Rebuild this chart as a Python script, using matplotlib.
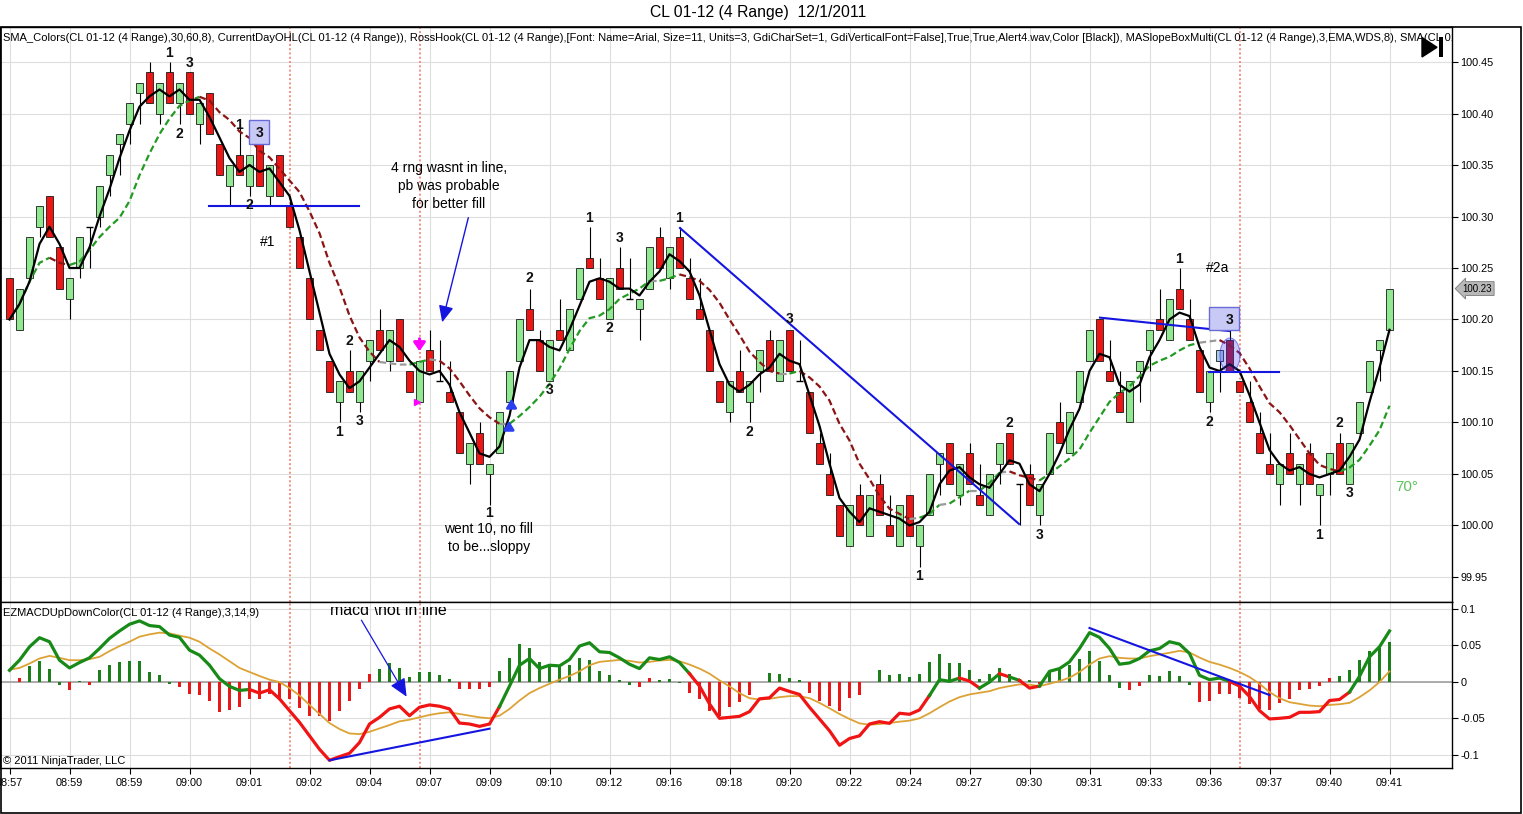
"""
NinjaTrader-style range-bar chart of CL 01-12 (4 Range), 12/1/2011,
with swing labels, hand-drawn notes and the EZMACD panel underneath.
"""

import matplotlib

matplotlib.use("Agg")
import matplotlib.pyplot as plt
import numpy as np
import pandas as pd
from matplotlib.patches import Ellipse, Polygon, Rectangle
from matplotlib.transforms import blended_transform_factory

plt.rcParams["font.family"] = ["Liberation Sans", "DejaVu Sans"]

FIG_W, FIG_H, DPI = 1523, 814, 100

TITLE = "CL 01-12 (4 Range)  12/1/2011"
HEADER = (
    "SMA_Colors(CL 01-12 (4 Range),30,60,8), CurrentDayOHL(CL 01-12 (4 Range)), "
    "RossHook(CL 01-12 (4 Range),[Font: Name=Arial, Size=11, Units=3, GdiCharSet=1, "
    "GdiVerticalFont=False],True,True,Alert4.wav,Color [Black]), "
    "MASlopeBoxMulti(CL 01-12 (4 Range),3,EMA,WDS,8), SMA(CL 01-12 (4 Range),14)"
)
MACD_HEADER = "EZMACDUpDownColor(CL 01-12 (4 Range),3,14,9)"

# one label every 6 bars
TIME_LABELS = [
    "08:57", "08:59", "08:59", "09:00", "09:01", "09:02", "09:04", "09:07",
    "09:09", "09:10", "09:12", "09:16", "09:18", "09:20", "09:22", "09:24",
    "09:27", "09:30", "09:31", "09:33", "09:36", "09:37", "09:40", "09:41",
]
LABEL_EVERY = 6

# range bars, in ticks (0.01) above 100.00
BASE_PRICE = 100.00
TICK_SIZE = 0.01
OPEN_TICKS = [
    24, 19, 24, 29, 32, 27, 22, 25, 29, 30,
    34, 37, 39, 42, 44, 40, 44, 41, 44, 39,
    42, 37, 33, 36, 33, 37, 32, 36, 31, 28,
    24, 19, 16, 12, 15, 12, 16, 19, 16, 20,
    15, 12, 17, 14, 13, 11, 6, 9, 5, 7,
    12, 16, 21, 18, 14, 19, 17, 22, 26, 24,
    20, 25, 22, 21, 23, 28, 24, 28, 24, 21,
    19, 14, 11, 15, 12, 15, 18, 14, 19, 14,
    13, 8, 5, 2, -2, 3, -1, 4, 0, -2,
    3, -2, 1, 6, 8, 3, 7, 3, 1, 6,
    9, 4, 5, 1, 5, 10, 7, 12, 16, 20,
    15, 13, 10, 15, 17, 20, 18, 23, 20, 17,
    12, 16, 18, 14, 12, 9, 6, 4, 7, 4,
    7, 3, 5, 8, 4, 9, 13, 17, 19,
]
HIGH_TICKS = [
    24, 23, 28, 31, 32, 27, 24, 28, 29, 33,
    36, 38, 41, 43, 45, 43, 45, 43, 44, 41,
    42, 37, 35, 39, 36, 37, 35, 36, 32, 28,
    24, 19, 16, 14, 17, 15, 18, 21, 19, 20,
    15, 16, 19, 18, 16, 11, 8, 10, 6, 11,
    15, 20, 23, 19, 18, 22, 21, 25, 29, 26,
    24, 27, 26, 22, 27, 29, 27, 29, 26, 24,
    19, 14, 14, 17, 14, 17, 19, 18, 19, 18,
    13, 9, 7, 2, 2, 4, 3, 5, 3, 2,
    3, 0, 5, 7, 8, 6, 8, 6, 5, 8,
    9, 4, 6, 4, 9, 12, 11, 15, 19, 20,
    18, 15, 14, 16, 19, 23, 22, 25, 22, 17,
    15, 17, 19, 14, 14, 11, 9, 6, 9, 6,
    8, 4, 7, 9, 8, 12, 16, 18, 23,
]
LOW_TICKS = [
    20, 19, 24, 28, 28, 23, 20, 24, 25, 29,
    32, 34, 37, 39, 41, 39, 41, 39, 40, 37,
    38, 34, 31, 34, 32, 33, 31, 32, 29, 25,
    20, 17, 13, 10, 13, 11, 14, 17, 15, 16,
    13, 12, 15, 14, 12, 7, 4, 6, 2, 7,
    12, 16, 19, 15, 14, 18, 17, 22, 25, 22,
    20, 23, 22, 18, 23, 25, 23, 25, 22, 20,
    15, 12, 10, 13, 10, 13, 15, 14, 15, 14,
    9, 6, 3, -1, -2, 0, -1, 1, -1, -2,
    -1, -4, 1, 3, 4, 2, 4, 2, 1, 4,
    6, 0, 2, 0, 5, 8, 7, 12, 16, 16,
    14, 11, 10, 12, 15, 19, 18, 21, 18, 13,
    11, 13, 15, 13, 10, 7, 5, 2, 5, 2,
    4, 0, 3, 5, 4, 9, 13, 14, 19,
]
CLOSE_TICKS = [
    20, 23, 28, 31, 28, 23, 24, 28, 29, 33,
    36, 38, 41, 43, 41, 43, 41, 43, 40, 41,
    38, 34, 35, 34, 36, 33, 35, 32, 29, 25,
    20, 17, 13, 14, 13, 15, 18, 17, 19, 16,
    13, 16, 15, 14, 12, 7, 8, 6, 6, 11,
    15, 20, 19, 15, 18, 18, 21, 25, 25, 22,
    24, 23, 22, 22, 27, 25, 27, 25, 22, 20,
    15, 12, 14, 13, 14, 17, 15, 18, 15, 14,
    9, 6, 3, -1, 2, 0, 3, 1, -1, 2,
    -1, 0, 5, 7, 4, 6, 4, 2, 5, 8,
    6, 4, 2, 4, 9, 8, 11, 15, 19, 16,
    14, 11, 14, 16, 19, 19, 22, 21, 18, 13,
    15, 17, 15, 13, 10, 7, 5, 6, 5, 6,
    4, 4, 7, 5, 8, 12, 16, 18, 23,
]

# EZMACD values in thousandths
MACD_MILLI = [
    15.6, 29.4, 47.7, 60.1, 54.6, 29.4, 18.8, 26.2, 32.6, 45.4,
    59.2, 69.3, 78.5, 83.1, 76.7, 75.3, 63.8, 60.6, 43.1, 36.3,
    22.5, 4.1, -6.4, -11.9, -10.6, -15.6, -11.0, -23.4, -39.5, -55.5,
    -73.9, -92.3, -107.4, -102.4, -97.8, -83.1, -57.8, -48.7, -37.2, -33.5,
    -46.4, -34.9, -31.7, -33.5, -37.2, -56.5, -57.8, -61.0, -57.8, -34.0,
    -6.0, 22.5, 31.7, 17.9, 22.5, 21.6, 30.3, 48.7, 53.2, 40.9,
    39.9, 32.6, 23.9, 17.9, 32.6, 30.3, 34.0, 26.2, 11.0, -6.0,
    -30.3, -50.0, -48.7, -47.3, -40.9, -23.4, -22.0, -8.7, -13.3, -17.4,
    -34.9, -50.9, -67.0, -86.8, -77.6, -73.9, -57.8, -54.6, -56.9, -43.1,
    -44.5, -38.6, -18.8, 2.8, 0.5, 5.0, 0.9, -8.7, -0.5, 11.0,
    6.4, 1.8, -8.7, -6.0, 14.2, 17.9, 27.1, 45.4, 67.0, 60.6,
    45.4, 23.9, 25.7, 31.7, 42.2, 45.4, 54.6, 51.4, 38.6, 8.7,
    2.8, 5.0, 0.5, -6.0, -20.2, -39.5, -50.9, -50.0, -48.7, -41.8,
    -41.8, -40.9, -25.7, -24.3, -14.2, 7.3, 34.0, 47.7, 69.3,
]
SIGNAL_MILLI = [
    16.5, 18.8, 24.8, 31.7, 35.3, 32.6, 29.4, 29.4, 30.8, 34.0,
    41.8, 48.7, 54.6, 61.5, 64.7, 67.0, 66.1, 62.9, 60.1, 54.6,
    45.4, 37.2, 28.0, 18.8, 13.3, 7.8, 2.8, -0.5, -8.7, -18.8,
    -31.7, -44.1, -56.5, -64.7, -70.7, -71.6, -68.4, -63.8, -59.2, -54.2,
    -51.9, -48.7, -45.4, -43.1, -41.8, -44.1, -46.4, -48.7, -50.0, -46.4,
    -37.2, -25.7, -15.6, -8.7, -2.8, 2.8, 7.8, 14.2, 22.5, 27.1,
    28.5, 29.8, 28.5, 26.2, 27.1, 28.9, 29.8, 28.0, 23.4, 17.9,
    11.0, 1.8, -6.4, -15.6, -22.5, -24.3, -23.4, -21.1, -19.7, -19.7,
    -22.5, -28.9, -36.3, -44.1, -50.9, -56.9, -58.8, -57.8, -56.5, -54.6,
    -53.2, -50.0, -43.1, -34.9, -27.1, -21.1, -17.4, -15.1, -12.9, -8.7,
    -6.0, -3.7, -4.1, -6.0, -2.8, 0.9, 5.5, 13.3, 23.4, 31.7,
    34.9, 32.6, 31.7, 31.7, 34.9, 37.2, 39.5, 42.2, 39.9, 33.0,
    27.1, 23.4, 18.8, 13.3, 6.4, -2.8, -14.2, -22.5, -28.0, -30.3,
    -32.6, -33.5, -31.7, -30.8, -28.9, -21.1, -11.9, -0.5, 14.2,
]
HIST_MILLI = [
    0.0, 5.5, 21.1, 28.5, 17.9, -5.0, -11.9, 0.5, -5.0, 15.6,
    23.4, 27.1, 28.9, 28.9, 13.3, 9.6, -2.8, -7.3, -16.5, -18.8,
    -26.6, -40.9, -38.1, -34.0, -23.4, -24.3, -16.5, -23.4, -23.0, -35.3,
    -46.4, -47.3, -53.2, -39.5, -26.6, -9.6, 11.0, 17.9, 26.2, 19.3,
    6.4, 13.3, 13.3, 9.6, 4.1, -10.6, -9.6, -10.6, -7.3, 14.2,
    32.6, 50.9, 46.4, 27.1, 24.8, 20.2, 23.4, 32.6, 29.4, 14.2,
    9.6, 2.8, -4.6, -7.3, 5.5, 1.8, 4.1, -1.4, -15.1, -24.3,
    -39.5, -46.4, -34.9, -28.0, -17.9, 0.0, 12.4, 11.0, 5.5, 2.8,
    -15.1, -25.7, -32.6, -39.5, -22.5, -17.9, 0.0, 15.6, 9.6, 11.0,
    6.4, 11.0, 27.1, 37.2, 25.7, 25.7, 16.5, 4.1, 11.0, 18.8,
    11.0, 4.1, 1.8, -2.8, 14.2, 16.5, 22.5, 31.7, 41.8, 28.0,
    9.6, -8.3, -11.9, -6.4, 9.6, 7.8, 14.2, 7.8, -5.0, -27.1,
    -25.7, -16.5, -17.4, -22.5, -30.3, -37.2, -38.1, -28.9, -23.4, -11.9,
    -10.6, -6.4, 5.5, 7.8, 15.6, 29.4, 41.8, 46.4, 53.7,
]
# g = up colour, r = down colour, one flag per bar
HIST_FLAGS = (
    "rrggggrgrg" "gggggggrrr" "rrrrrrrrrr" "rrrrrrrggg" "gggggrrrrg"
    "gggggggggg" "gggrrgggrr" "rrrrrrgggg" "rrrrrrrggg" "gggggggggg"
    "gggrgggggg" "ggrrgggggr" "rrrrrrrrrr" "rrrgggggg"
)
MACD_FLAGS = (
    "g" * 25 + "r" * 25 + "g" * 19 + "r" * 24 + "g" * 3 + "r" * 2 + "g" * 2
    + "r" + "g" + "r" * 2 + "g" * 19 + "r" * 12 + "g" * 4
)

# Ross hook swing labels: (bar, price, text)
SWING_LABELS = [
    (16, 100.4587, "1"), (18, 100.449, "3"), (17, 100.3801, "2"),
    (23, 100.3888, "1"), (24, 100.3112, "2"),
    (33, 100.0908, "1"), (34, 100.1791, "2"), (35, 100.1015, "3"),
    (48, 100.0121, "1"), (52, 100.2403, "2"), (54, 100.1316, "3"),
    (58, 100.2985, "1"), (60, 100.1917, "2"), (61, 100.2791, "3"),
    (67, 100.2985, "1"), (74, 100.0908, "2"), (78, 100.2005, "3"),
    (91, 99.951, "1"), (100, 100.0995, "2"), (103, 99.9908, "3"),
    (117, 100.2587, "1"), (120, 100.1005, "2"),
    (131, 99.9908, "1"), (133, 100.0995, "2"), (134, 100.0316, "3"),
]
# boxed "3" labels: (left bar edge, bottom price, width in bars, height, label bar, label price)
BOXED_LABELS = [
    (23.95, 100.3704, 2.0, 0.0233, 25.0, 100.3811),
    (119.95, 100.1898, 3.0, 0.0223, 122.0, 100.1995),
]
SESSION_LINES = [28, 41, 123]

COLOR_UP = "#90e890"
COLOR_DOWN = "#ee1515"
BODY_OVERRIDES = {121: "#a9cbe6", 122: "#b3122e"}
MA_COLORS = {"up": "#239b23", "down": "#8b1414", "flat": "#9a9a9a"}
MACD_COLORS = {"g": "#178a17", "r": "#f01414"}
HIST_COLORS = {"g": "#1c7f1c", "r": "#e81818"}
SIGNAL_COLOR = "#dda235"
DRAW_BLUE = "#1515e0"
GRID_COLOR = "#dedede"


def fig_xy(x, y):
    return x / FIG_W, 1.0 - y / FIG_H


def fig_rect(left, top, right, bottom):
    x0, y0 = fig_xy(left, bottom)
    x1, y1 = fig_xy(right, top)
    return [x0, y0, x1 - x0, y1 - y0]


def draw_runs(ax, x, y, flags, colors, **kw):
    """Plot a polyline whose segment ending at point k takes colors[flags[k]]."""
    start = 1
    for k in range(2, len(x) + 1):
        if k == len(x) or flags[k] != flags[start]:
            ax.plot(x[start - 1:k], y[start - 1:k], color=colors[flags[start]], **kw)
            start = k


def style_axes(ax, tick_bars):
    ax.set_facecolor("white")
    for sp in ax.spines.values():
        sp.set_color("black")
        sp.set_linewidth(1.0)
    ax.yaxis.tick_right()
    ax.set_xticks(tick_bars)
    ax.grid(True, color=GRID_COLOR, lw=0.8)
    ax.set_axisbelow(True)
    ax.tick_params(axis="y", direction="out", length=4, width=0.8, labelsize=7.8, pad=2)


def main():
    opens = BASE_PRICE + np.array(OPEN_TICKS) * TICK_SIZE
    highs = BASE_PRICE + np.array(HIGH_TICKS) * TICK_SIZE
    lows = BASE_PRICE + np.array(LOW_TICKS) * TICK_SIZE
    closes = BASE_PRICE + np.array(CLOSE_TICKS) * TICK_SIZE
    bars = np.arange(len(closes))
    tick_bars = np.arange(len(TIME_LABELS)) * LABEL_EVERY

    fig = plt.figure(figsize=(FIG_W / DPI, FIG_H / DPI), dpi=DPI)
    ax = fig.add_axes(fig_rect(0, 27, 1452, 602))
    axm = fig.add_axes(fig_rect(0, 602, 1452, 768), sharex=ax)
    style_axes(ax, tick_bars)
    style_axes(axm, tick_bars)

    # ---- price panel
    ax.set_xlim(-0.95, 144.25)
    ax.set_ylim(99.9257, 100.484)
    yt = np.round(np.arange(99.95, 100.451, 0.05), 2)
    ax.set_yticks(yt)
    ax.set_yticklabels([f"{v:.2f}" for v in yt])
    ax.tick_params(axis="x", length=0, labelbottom=False)

    for i in bars:
        ax.vlines(i, lows[i], highs[i], color="black", lw=0.8, zorder=3)
        if np.isclose(opens[i], closes[i]):
            ax.hlines(closes[i], i - 0.32, i + 0.32, color="black", lw=1.0, zorder=4)
            continue
        face = BODY_OVERRIDES.get(i, COLOR_UP if closes[i] > opens[i] else COLOR_DOWN)
        ax.add_patch(Rectangle((i - 0.31, min(opens[i], closes[i])), 0.62,
                               abs(closes[i] - opens[i]), facecolor=face,
                               edgecolor="#1a1a1a", lw=0.6, zorder=4))

    close_s = pd.Series(closes)
    slow = close_s.rolling(8, min_periods=1).mean().to_numpy()
    fast = close_s.rolling(3, min_periods=1).mean().to_numpy()
    step = np.diff(slow, prepend=slow[0])
    ma_flags = np.where(step > 0.002, "up", np.where(step < -0.002, "down", "flat"))
    draw_runs(ax, bars, slow, ma_flags, MA_COLORS, lw=1.6, ls=(0, (3, 1.6)), zorder=5)
    ax.plot(bars, fast, color="black", lw=1.6, zorder=6)

    for b in SESSION_LINES:
        for a in (ax, axm):
            a.axvline(b, color="#f29080", lw=1.4, ls=(0, (1, 1.2)), zorder=2)

    # hand-drawn trend lines and notes
    ax.plot([19.95, 34.95], [100.3102, 100.3102], color=DRAW_BLUE, lw=1.5, zorder=7)
    ax.plot([67.05, 100.95], [100.2888, 100.0015], color=DRAW_BLUE, lw=1.5, zorder=7)
    ax.plot([109.05, 121.95], [100.2018, 100.1888], color=DRAW_BLUE, lw=1.5, zorder=7)
    ax.plot([119.95, 126.95], [100.149, 100.149], color=DRAW_BLUE, lw=1.5, zorder=7)
    ax.annotate("", xy=(43.2, 100.1947), xytext=(45.95, 100.3015),
                arrowprops=dict(arrowstyle="-|>,head_width=0.45,head_length=1.0",
                                color=DRAW_BLUE, lw=1.0), zorder=7)
    ax.add_patch(Ellipse((122.05, 100.1655), 2.0, 0.033, facecolor=(0.25, 0.25, 1.0, 0.28),
                         edgecolor=(0.2, 0.2, 0.9, 0.55), lw=0.8, zorder=7))
    for left, bottom, w, h, lx, ly in BOXED_LABELS:
        ax.add_patch(Rectangle((left, bottom), w, h, facecolor="#c9c9f6",
                               edgecolor="#6b6bd8", lw=1.0, zorder=7))
        ax.text(lx, ly, "3", ha="center", va="center", fontsize=10,
                fontweight="bold", color="#111111", zorder=8)

    for b, p, t in SWING_LABELS:
        ax.text(b, p, t, ha="center", va="center", fontsize=10, fontweight="bold",
                color="#111111", zorder=8)

    ax.text(25.85, 100.2752, "#1", ha="center", va="center", fontsize=10, zorder=8)
    ax.text(120.85, 100.25, "#2a", ha="center", va="center", fontsize=10, zorder=8)
    ax.text(43.95, 100.3296, "4 rng wasnt in line,\npb was probable\nfor better fill",
            ha="center", va="center", fontsize=10, linespacing=1.33, zorder=8)
    ax.text(47.95, 99.9874, "went 10, no fill\nto be...sloppy", ha="center", va="center",
            fontsize=10, linespacing=1.37, zorder=8)
    ax.text(139.75, 100.0374, "70°", ha="center", va="center", fontsize=11,
            color="#5cc45c", zorder=8)

    # small entry markers
    ax.annotate("", xy=(41, 100.1665), xytext=(41, 100.184),
                arrowprops=dict(arrowstyle="-|>,head_width=0.35,head_length=0.5",
                                color="#ff00ff", lw=2.2), zorder=8)
    ax.plot([40.75], [100.120], marker=">", ms=5, color="#ff00ff", zorder=8)
    for x0, y0, y1 in [(50.2, 100.115, 100.1258), (49.95, 100.0908, 100.1044)]:
        ax.annotate("", xy=(x0, y1), xytext=(x0, y0),
                    arrowprops=dict(arrowstyle="-|>,head_width=0.3,head_length=0.5",
                                    color="#2a3ff0", lw=2.0), zorder=8)

    ax.text(0.002, 0.981, HEADER, transform=ax.transAxes, ha="left", va="center",
            fontsize=8, clip_on=True, zorder=9)

    last = closes[-1]
    tag_tr = blended_transform_factory(ax.transAxes, ax.transData)
    ax.text(1.0175, last, f"{last:.2f}", transform=tag_tr, ha="center", va="center",
            fontsize=7, clip_on=False,
            bbox=dict(boxstyle="larrow,pad=0.2", facecolor="#b8b8b8", edgecolor="#7a7a7a", lw=0.6))

    # ---- MACD panel
    axm.set_ylim(-0.1179, 0.1089)
    mt = [-0.1, -0.05, 0.0, 0.05, 0.1]
    axm.set_yticks(mt)
    axm.set_yticklabels(["-0.1", "-0.05", "0", "0.05", "0.1"])
    axm.set_xticklabels(TIME_LABELS)
    axm.tick_params(axis="x", direction="out", length=4, width=0.8, labelsize=7.8, pad=3)

    macd = np.array(MACD_MILLI) / 1000.0
    signal = np.array(SIGNAL_MILLI) / 1000.0
    hist = np.array(HIST_MILLI) / 1000.0
    axm.axhline(0, color="#a0a0a0", lw=1.2, zorder=2)
    axm.bar(bars, hist, width=0.32, color=[HIST_COLORS[f] for f in HIST_FLAGS], zorder=3)
    axm.plot(bars, signal, color=SIGNAL_COLOR, lw=1.3, zorder=4)
    draw_runs(axm, bars, macd, MACD_FLAGS, MACD_COLORS, lw=2.3, zorder=5,
              solid_joinstyle="round")

    axm.plot([32, 48], [-0.1074, -0.0642], color=DRAW_BLUE, lw=1.5, zorder=6)
    axm.plot([108, 126], [0.0734, -0.0182], color=DRAW_BLUE, lw=1.5, zorder=6)
    axm.annotate("", xy=(39.85, -0.0237), xytext=(35.05, 0.0873),
                 arrowprops=dict(arrowstyle="-|>,head_width=0.5,head_length=1.1",
                                 color=DRAW_BLUE, lw=0.9), zorder=7)
    # the note sits half outside the pane, so its top is cut off
    note = axm.text(32.05, 0.0911, "macd \\not in line", ha="left", va="baseline",
                    fontsize=11.5, zorder=7, clip_on=True)
    note.set_clip_path(Rectangle((-0.95, -0.1179), 145.2, 0.1014 + 0.1179,
                                 transform=axm.transData))

    axm.text(0.002, 0.935, MACD_HEADER, transform=axm.transAxes, ha="left",
             va="center", fontsize=8, zorder=8)
    axm.text(0.002, 0.04, "© 2011 NinjaTrader, LLC", transform=axm.transAxes,
             ha="left", va="center", fontsize=8, zorder=8)

    # ---- frame, title and toolbar glyph
    fx, fy = fig_xy(0.5, 813)
    fx1, fy1 = fig_xy(1521, 27)
    fig.add_artist(Rectangle((fx, fy), fx1 - fx, fy1 - fy, transform=fig.transFigure,
                             fill=False, edgecolor="black", lw=1.2))
    tx, ty = fig_xy(758, 13)
    fig.text(tx, ty, TITLE, ha="center", va="center", fontsize=11.3)
    tri = [fig_xy(1422, 37.5), fig_xy(1422, 57), fig_xy(1437, 47.3)]
    fig.add_artist(Polygon(tri, closed=True, transform=fig.transFigure,
                           facecolor="black", edgecolor="black"))
    fig.add_artist(Rectangle(fig_xy(1438.5, 57), 4 / FIG_W, 19.5 / FIG_H,
                             transform=fig.transFigure, facecolor="black"))

    fig.savefig("out.png", dpi=DPI)
    plt.close(fig)


if __name__ == "__main__":
    main()
